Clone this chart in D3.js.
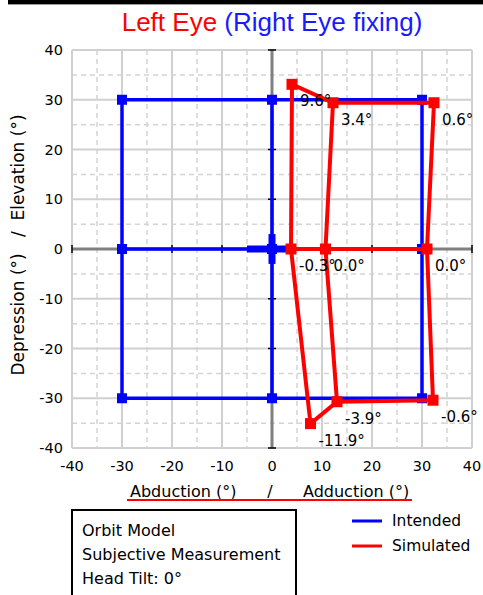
<!DOCTYPE html>
<html>
<head>
<meta charset="utf-8">
<script src="https://cdn.jsdelivr.net/npm/d3@7"></script>
<style>
  body { margin: 0; background: #fff; }
  svg { display: block; }
</style>
</head>
<body>
<script>
// tick values for both axes
const ticks = [-40, -30, -20, -10, 0, 10, 20, 30, 40];
const halfTicks = [-35, -25, -15, -5, 5, 15, 25, 35];

// intended gaze grid (blue)
const intendedCols = [-30, 0, 30];
const intendedRows = [30, 0, -30];

// simulated positions (red), one array per row, left -> right
const simTop = [[4.0, 33.1], [12.2, 29.4], [32.4, 29.4]];
const simMid = [[3.8, 0.0], [10.7, 0.0], [31.0, 0.0]];
const simBot = [[7.7, -35.1], [13.0, -30.7], [32.2, -30.4]];

// torsion labels next to each simulated point
const torsionTop = ['9.6°', '3.4°', '0.6°'];
const torsionMid = ['-0.3°', '0.0°', '0.0°'];
const torsionBot = ['-11.9°', '-3.9°', '-0.6°'];

const infoLines = ['Orbit Model', 'Subjective Measurement', 'Head Tilt: 0°'];
const legendNames = ['Intended', 'Simulated'];

const width = 483, height = 595;
const blue = '#0000ff', red = '#ff0000';
const font = 'DejaVu Sans, Verdana, sans-serif';

let svg = d3.select('body')
    .append('svg')
    .attr('width', width)
    .attr('height', height);

svg.append('rect')
    .attr('width', width)
    .attr('height', height)
    .attr('fill', '#fff');

// top black bar
svg.append('rect').attr('x', 8).attr('y', 0).attr('width', width - 8).attr('height', 4).attr('fill', '#000');
svg.append('rect').attr('x', 8).attr('y', 4).attr('width', width - 8).attr('height', 1).attr('fill', '#999');

let x = d3.scaleLinear().domain([-40, 40]).range([72, 472]);
let y = d3.scaleLinear().domain([-40, 40]).range([448, 50]);

// title
let title = svg.append('text')
    .attr('x', 272)
    .attr('y', 31)
    .attr('text-anchor', 'middle')
    .style('font-family', 'Liberation Sans, Arial, sans-serif')
    .style('font-size', '26px');
title.append('tspan').attr('fill', red).text('Left Eye ');
title.append('tspan').attr('fill', '#1a1aff').text('(Right Eye fixing)');

// grid
let grid = svg.append('g');
grid.selectAll('.dx').data(halfTicks).enter().append('line')
    .attr('x1', d => x(d)).attr('x2', d => x(d))
    .attr('y1', y(40)).attr('y2', y(-40))
    .attr('stroke', '#d4d4d4').attr('stroke-width', 1.5).attr('stroke-dasharray', '5,4');
grid.selectAll('.dy').data(halfTicks).enter().append('line')
    .attr('y1', d => y(d)).attr('y2', d => y(d))
    .attr('x1', x(-40)).attr('x2', x(40))
    .attr('stroke', '#d4d4d4').attr('stroke-width', 1.5).attr('stroke-dasharray', '5,4');
grid.selectAll('.sx').data(ticks).enter().append('line')
    .attr('x1', d => x(d)).attr('x2', d => x(d))
    .attr('y1', y(40)).attr('y2', y(-40))
    .attr('stroke', '#d0d0d0').attr('stroke-width', 2);
grid.selectAll('.sy').data(ticks).enter().append('line')
    .attr('y1', d => y(d)).attr('y2', d => y(d))
    .attr('x1', x(-40)).attr('x2', x(40))
    .attr('stroke', '#d0d0d0').attr('stroke-width', 2);

// zero axes
svg.append('line').attr('x1', x(0)).attr('x2', x(0)).attr('y1', y(40)).attr('y2', y(-40))
    .attr('stroke', '#808080').attr('stroke-width', 3);
svg.append('line').attr('y1', y(0)).attr('y2', y(0)).attr('x1', x(-40)).attr('x2', x(40))
    .attr('stroke', '#808080').attr('stroke-width', 3);

// tick marks on zero axes
svg.selectAll('.tx').data(ticks).enter().append('line')
    .attr('x1', d => x(d)).attr('x2', d => x(d))
    .attr('y1', y(0) - 4).attr('y2', y(0) + 4)
    .attr('stroke', '#000').attr('stroke-width', 1.5);
svg.selectAll('.ty').data(ticks).enter().append('line')
    .attr('y1', d => y(d)).attr('y2', d => y(d))
    .attr('x1', x(0) - 4).attr('x2', x(0) + 4)
    .attr('stroke', '#000').attr('stroke-width', 1.5);

// tick labels
svg.selectAll('.lx').data(ticks).enter().append('text')
    .attr('x', d => x(d))
    .attr('y', 471)
    .attr('text-anchor', 'middle')
    .style('font-family', font).style('font-size', '14.5px')
    .text(d => d);
svg.selectAll('.ly').data(ticks).enter().append('text')
    .attr('x', 63)
    .attr('y', d => y(d) + 5)
    .attr('text-anchor', 'end')
    .style('font-family', font).style('font-size', '14.5px')
    .text(d => d);

// axis titles
let xt = svg.append('g').style('font-family', font).style('font-size', '16px');
xt.append('text').attr('x', 130).attr('y', 497).text('Abduction (°)');
xt.append('text').attr('x', 270).attr('y', 497).attr('text-anchor', 'middle').text('/');
xt.append('text').attr('x', 303).attr('y', 497).text('Adduction (°)');
svg.append('line').attr('x1', 127).attr('x2', 412).attr('y1', 500).attr('y2', 500)
    .attr('stroke', red).attr('stroke-width', 2);

svg.append('text')
    .attr('transform', 'translate(24,245) rotate(-90)')
    .attr('text-anchor', 'middle')
    .style('font-family', font).style('font-size', '17px')
    .style('white-space', 'pre')
    .text('Depression (°)   /  Elevation (°)');

// intended grid (blue)
let lineFunc = d3.line().x(d => x(d[0])).y(d => y(d[1]));
let intendedRowPts = intendedRows.map(r => intendedCols.map(c => [c, r]));
let intendedColPts = intendedCols.map(c => intendedRows.map(r => [c, r]));
let blueG = svg.append('g');
intendedRowPts.concat(intendedColPts).forEach(pts => {
    blueG.append('path').attr('d', lineFunc(pts))
        .attr('fill', 'none').attr('stroke', blue).attr('stroke-width', 3.5);
});
// thick centre mark
blueG.append('line').attr('x1', x(-5)).attr('x2', x(3)).attr('y1', y(0)).attr('y2', y(0))
    .attr('stroke', blue).attr('stroke-width', 7);
blueG.append('line').attr('x1', x(0)).attr('x2', x(0)).attr('y1', y(-3)).attr('y2', y(3))
    .attr('stroke', blue).attr('stroke-width', 7);
blueG.selectAll('rect').data(intendedRowPts.flat()).enter().append('rect')
    .attr('x', d => x(d[0]) - 5).attr('y', d => y(d[1]) - 5)
    .attr('width', 10).attr('height', 10).attr('fill', blue);

// simulated (red)
let simRows = [simTop, simMid, simBot];
let simCols = [0, 1, 2].map(i => simRows.map(r => r[i]));
let redG = svg.append('g');
simRows.concat(simCols).forEach(pts => {
    redG.append('path').attr('d', lineFunc(pts))
        .attr('fill', 'none').attr('stroke', red).attr('stroke-width', 4)
        .style('stroke-linejoin', 'round');
});
redG.selectAll('rect').data(simRows.flat()).enter().append('rect')
    .attr('x', d => x(d[0]) - 5.5).attr('y', d => y(d[1]) - 5.5)
    .attr('width', 11).attr('height', 11).attr('fill', red);

// torsion labels
let labels = [torsionTop, torsionMid, torsionBot];
let labelData = [];
simRows.forEach((row, r) => row.forEach((p, i) => labelData.push({p: p, t: labels[r][i]})));
svg.selectAll('.tl').data(labelData).enter().append('text')
    .attr('x', d => x(d.p[0]) + 8)
    .attr('y', d => y(d.p[1]) + 22)
    .style('font-family', font).style('font-size', '15px')
    .text(d => d.t);

// info box
svg.append('rect').attr('x', 72).attr('y', 510).attr('width', 224).attr('height', 100)
    .attr('fill', 'none').attr('stroke', '#000').attr('stroke-width', 2);
svg.selectAll('.info').data(infoLines).enter().append('text')
    .attr('x', 82)
    .attr('y', (d, i) => 536 + i * 24)
    .style('font-family', font).style('font-size', '16px')
    .text(d => d);

// legend
let legColors = [blue, red];
let leg = svg.selectAll('.leg').data(legendNames).enter().append('g')
    .attr('transform', (d, i) => 'translate(352,' + (521 + i * 25) + ')');
leg.append('line').attr('x1', 0).attr('x2', 30).attr('y1', 0).attr('y2', 0)
    .attr('stroke', (d, i) => legColors[i]).attr('stroke-width', 3);
leg.append('text').attr('x', 40).attr('y', 5)
    .style('font-family', font).style('font-size', '15.5px')
    .text(d => d);
</script>
</body>
</html>
